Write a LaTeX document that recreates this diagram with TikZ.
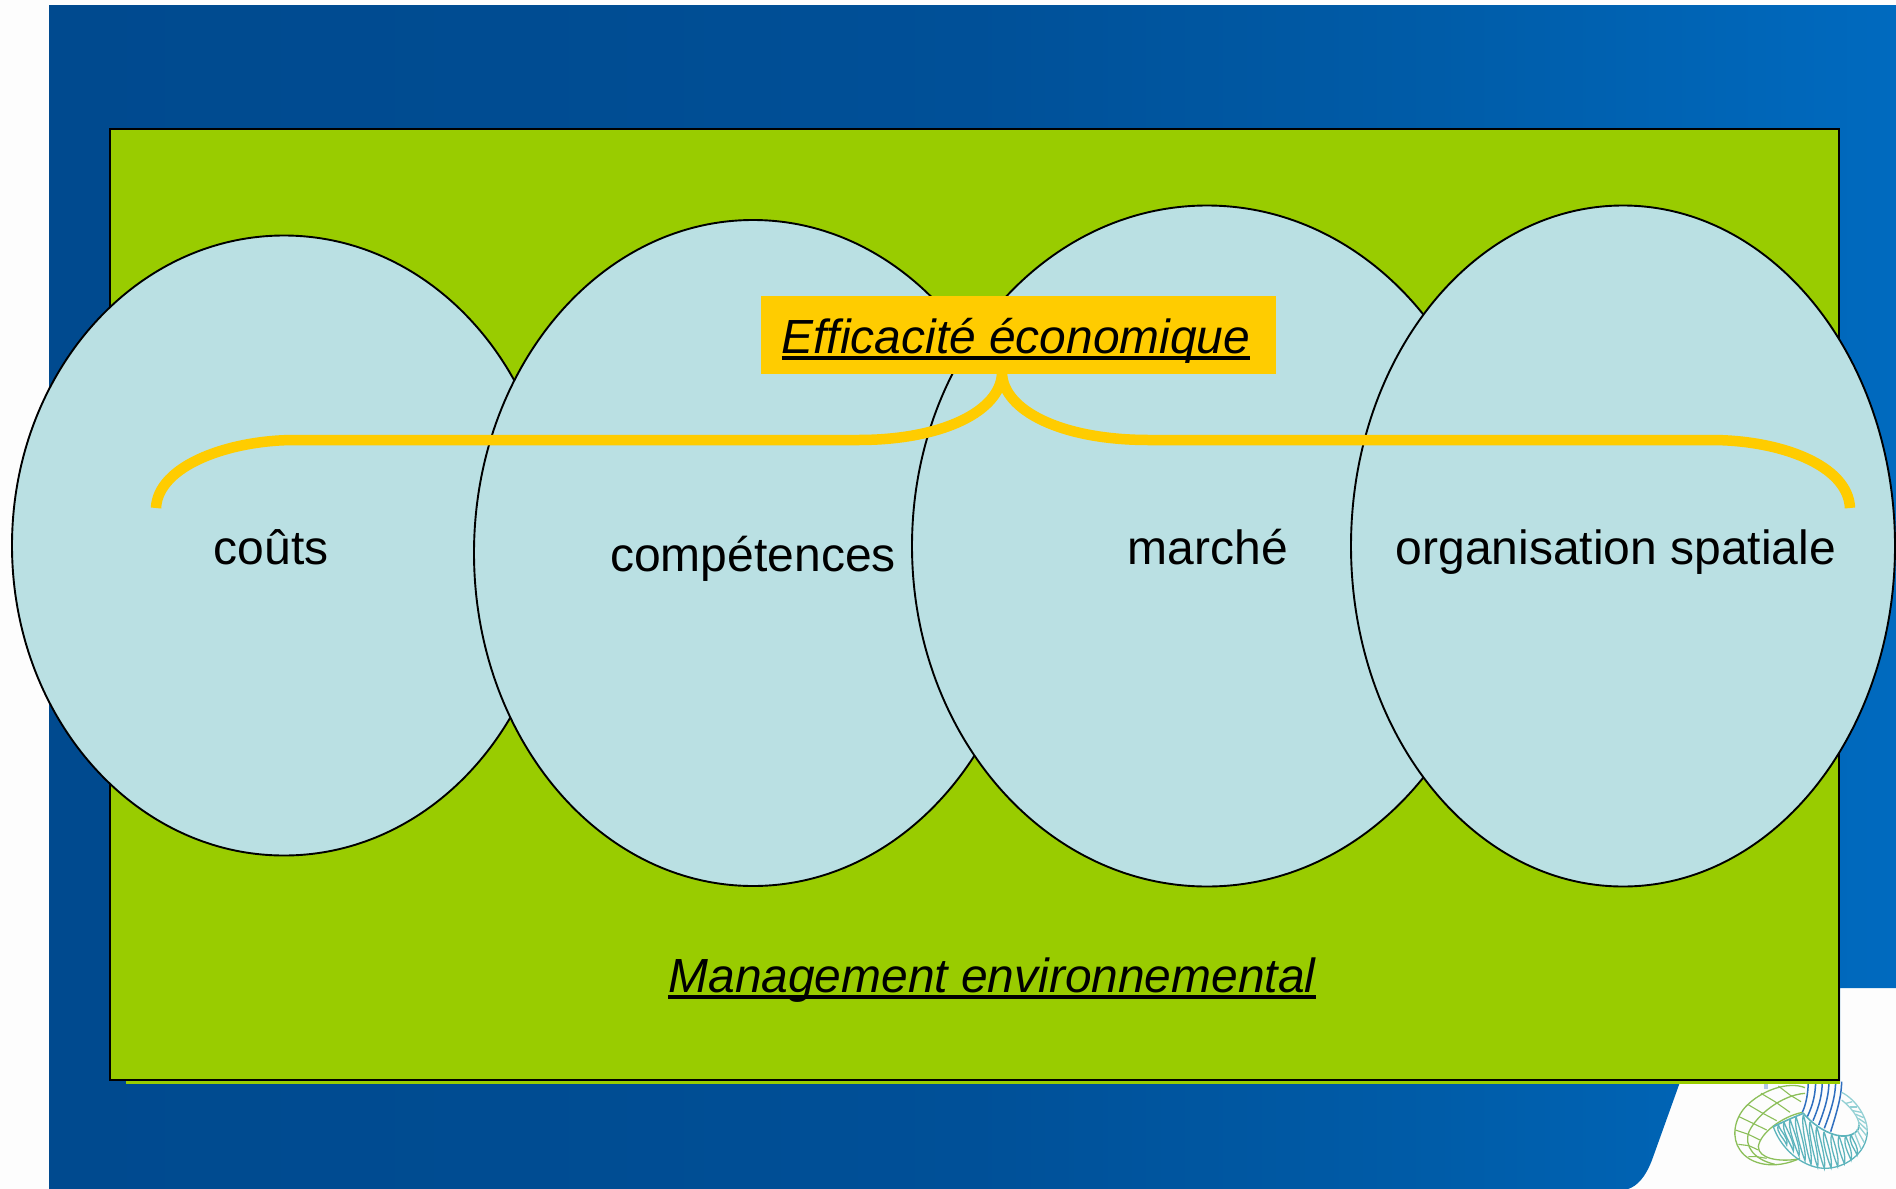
\documentclass[tikz,border=0pt]{standalone}
\usepackage{fontspec}
\setmainfont{Liberation Sans}
\usetikzlibrary{shapes.geometric}
\definecolor{bgwhite}{HTML}{FDFDFD}
\definecolor{leaf}{HTML}{99CC00}
\definecolor{pale}{HTML}{BAE0E3}
\definecolor{gold}{HTML}{FFCC00}
\definecolor{ringgreen}{HTML}{8CBF5A}
\definecolor{ringteal}{HTML}{5DB4BC}
\definecolor{ringlight}{HTML}{93D0D4}
\definecolor{ringblue}{HTML}{2F6FBF}
\definecolor{stub}{HTML}{B4C6EA}
\definecolor{gA}{HTML}{004A8F}
\definecolor{gB}{HTML}{004C92}
\definecolor{gC}{HTML}{005098}
\definecolor{gD}{HTML}{005CA8}
\definecolor{gE}{HTML}{006ABF}
\pgfdeclarehorizontalshading{bluegrad}{100bp}{color(0bp)=(gA); color(25bp)=(gA); color(37.5bp)=(gB); color(50bp)=(gC); color(62.5bp)=(gD); color(75bp)=(gE); color(100bp)=(gE)}
\newcommand\myul[1]{\setbox0\hbox{#1}\rlap{\rule[-6.5pt]{\wd0}{4pt}}\box0}
\tikzset{
  bubble/.style={ellipse,draw=black,line width=1.9pt,fill=pale,inner sep=0pt},
  lbl/.style={font=\fontsize{48}{52}\selectfont,text=black,inner sep=0pt,anchor=base},
  title/.style={font=\fontsize{47.9}{52}\selectfont\itshape,text=black,inner sep=0pt,anchor=base},
  brace/.style={draw=gold,line width=10.5pt,line cap=butt}
}
\begin{document}
\begin{tikzpicture}[x=1pt,y=-1pt]
\useasboundingbox (0,0) rectangle (1896,1189);
\fill[bgwhite] (0,0) rectangle (1896,1189);
% blue backdrop
\begin{scope}
\clip (49,5) -- (1896,5) -- (1896,988) -- (1840,988) -- (1840,1082) -- (1680,1082)
  -- (1652,1160) .. controls (1645,1178) and (1637,1186) .. (1628,1189) -- (49,1189) -- cycle;
\shade[shading=bluegrad] (49,5) rectangle (1896,1189);
\end{scope}
% logo, in 3x crop coordinates
\begin{scope}[shift={(1725,1075)},x=0.3333pt,y=-0.3333pt,line width=1.3pt]
  \fill[stub] (116,20) rectangle (130,42);
  % green ring
  \draw[ringgreen] (240,38) .. controls (190,18) and (110,45) .. (62,95)
     .. controls (25,135) and (20,190) .. (45,225)
     .. controls (75,270) and (150,285) .. (225,250);
  \draw[ringgreen] (232,112) .. controls (170,125) and (105,175) .. (100,215)
     .. controls (100,250) and (160,262) .. (220,252);
  \draw[ringgreen] (240,55) .. controls (170,60) and (95,120) .. (72,170)
     .. controls (55,215) and (90,255) .. (150,268);
  \foreach \mx/\my/\ox/\oy/\ix/\iy in {
    195/60/160/33/228/80,
    150/80/108/55/195/112,
    110/113/68/88/155/137,
    84/145/42/125/125/165,
    70/178/31/165/105/195,
    72/212/40/208/100/225,
    95/245/70/245/125/250}
    \draw[ringgreen,line width=1.1pt] (\ox,\oy) -- (\mx,\my) -- (\ix,\iy);
  % blue stripes
  \foreach \tx/\ex/\ey in {250/232/112,272/247/125,292/264/137,312/281/150,332/298/160,350/317/170}
    \draw[ringblue,line width=1.5pt] (\tx,20) .. controls (\tx-1,55) and (\tx-6,85) .. (\ex,\ey);
  % teal ring
  \draw[ringlight] (350,52) .. controls (395,75) and (428,130) .. (427,170);
  \draw[ringlight] (350,75) .. controls (375,95) and (402,125) .. (402,150);
  \draw[ringteal] (427,170) .. controls (425,235) and (360,282) .. (295,280)
     .. controls (225,275) and (165,215) .. (145,155);
  \draw[ringteal,line width=1.6pt] (145,155) .. controls (175,140) and (210,125) .. (235,115)
     .. controls (265,150) and (310,180) .. (350,183)
     .. controls (385,185) and (405,165) .. (402,150);
  \foreach \ix/\iy/\ox/\oy in {
    160/149/185/210,
    177/141/205/228,
    195/133/222/243,
    213/125/240/257,
    235/120/258/268,
    255/140/278/276,
    275/155/298/280,
    297/170/318/278,
    320/178/338/274,
    342/182/358/266,
    362/182/378/255,
    378/178/396/240}
    \draw[ringteal] (\ix,\iy) .. controls (\ix-8,\iy+25) and (\ox-10,\oy-25) .. (\ox,\oy)
       .. controls (\ox+6,\oy-25) and (\ix+8,\iy+25) .. (\ix,\iy);
  \foreach \ix/\iy/\ox/\oy in {
    388/172/408/222,
    395/163/418/203,
    400/152/425/183,
    402/142/426/165,
    400/130/422/145,
    393/118/416/128,
    384/107/408/112,
    374/96/396/96,
    363/85/382/80}
    \draw[ringlight] (\ix,\iy) -- (\ox,\oy);
\end{scope}
% green panel
\fill[leaf] (126,1081) rectangle (1840,1084);
\node[draw=black,line width=2pt,fill=leaf,inner sep=0pt,outer sep=0pt,anchor=north west,minimum width=1729pt,minimum height=950.7pt] (panel) at (110.3,129.3) {};
% bubbles
\node[bubble,minimum width=544pt,minimum height=620pt] (e1) at (284,545.5) {};
\node[bubble,minimum width=558pt,minimum height=666pt] (e2) at (753,553) {};
\node[bubble,minimum width=590pt,minimum height=681pt] (e3) at (1207,546) {};
\node[bubble,minimum width=544pt,minimum height=681pt] (e4) at (1623,546) {};
% labels
\node[lbl] (couts) at (271,564) {coûts};
\node[lbl] (comp) at (753,571) {compétences};
\node[lbl] (marche) at (1208,564) {marché};
\node[lbl] (orga) at (1616,564) {organisation spatiale};
% title box
\node[fill=gold,inner sep=0pt,anchor=north west,minimum width=515pt,minimum height=78pt] (eff) at (761,296) {};
\node[title] (efft) at (1016,353) {\myul{Efficacité économique}};
\node[title] (mgmt) at (992,992) {\myul{Management environnemental}};
% brace
\coordinate (bl) at (156,508);
\coordinate (br) at (1850,508);
\coordinate (tip) at (1002,374);
\draw[brace] (bl) .. controls (158,465) and (230,440) .. (295,440) -- (858,440)
   .. controls (945,440) and (1000,410) .. (tip);
\draw[brace] (tip) .. controls (1004,410) and (1060,440) .. (1149,440) -- (1711,440)
   .. controls (1780,440) and (1848,465) .. (br);
\end{tikzpicture}
\end{document}
